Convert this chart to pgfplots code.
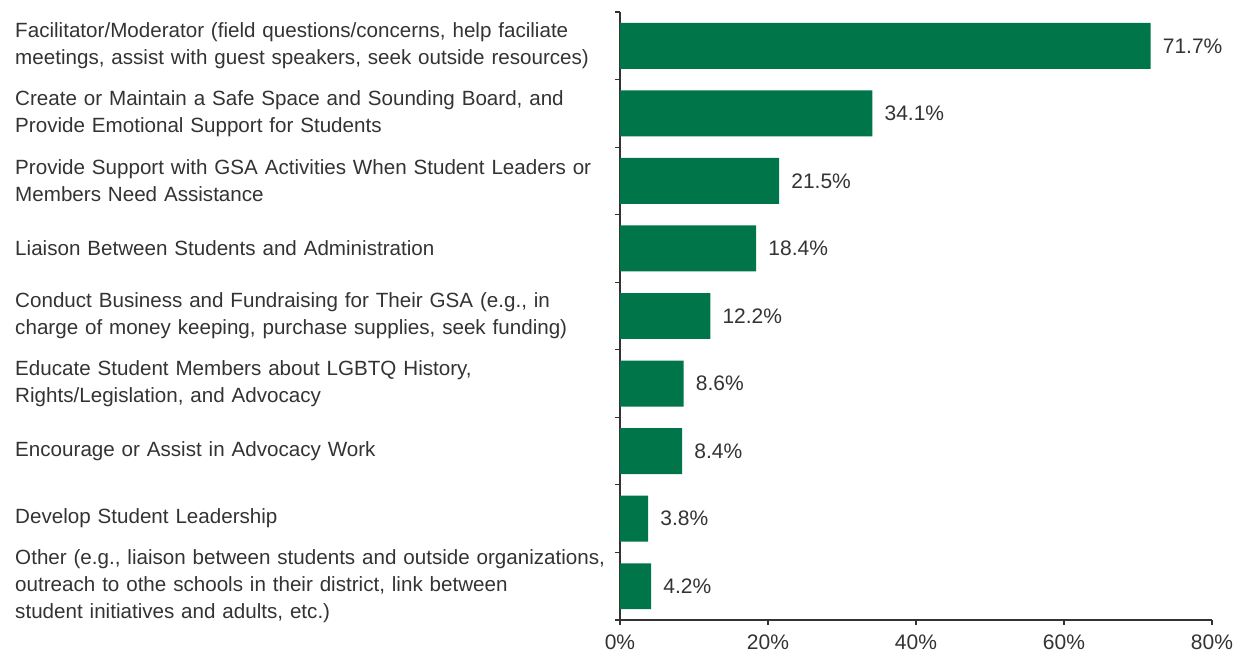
\documentclass[border=0pt]{standalone}
\usepackage{pgfplots}
\pgfplotsset{compat=1.18}
\usepackage{fontspec}
\setmainfont{Liberation Sans}
\definecolor{bargreen}{HTML}{00754A}
\definecolor{txt}{HTML}{333333}

\begin{document}
\fontsize{10.3pt}{13.5pt}\selectfont
\begin{tikzpicture}
\begin{axis}[
  scale only axis, width=296pt, height=304pt,
  xbar, bar width=0.68, y dir=reverse,
  xmin=0, xmax=80, ymin=-0.5, ymax=8.5,
  axis lines=left,
  axis line style={-, black!80, line width=0.6pt},
  tick align=outside,
  major tick length=2.5pt, minor tick length=2.5pt,
  tick style={black!80, line width=0.6pt},
  every major y tick/.append style={draw=none},
  xtick={0,20,...,80},
  xticklabel={\pgfmathprintnumber{\tick}\%},
  /pgf/number format/assume math mode=true,
  xticklabel style={color=txt, yshift=-1.5pt, font=\fontsize{10.5pt}{12pt}\selectfont},
  ytick={0,...,8},
  minor ytick={-0.5,0.5,...,8.5},
  yticklabels={
    {Facilitator/Moderator (field questions/concerns, help faciliate\\meetings, assist with guest speakers, seek outside resources)},
    {Create or Maintain a Safe Space and Sounding Board, and\\Provide Emotional Support for Students},
    {Provide Support with GSA Activities When Student Leaders or\\Members Need Assistance},
    {Liaison Between Students and Administration},
    {Conduct Business and Fundraising for Their GSA (e.g., in\\charge of money keeping, purchase supplies, seek funding)},
    {Educate Student Members about LGBTQ History,\\Rights/Legislation, and Advocacy},
    {Encourage or Assist in Advocacy Work},
    {Develop Student Leadership},
    {Other (e.g., liaison between students and outside organizations,\\outreach to othe schools in their district, link between\\student initiatives and adults, etc.)}
  },
  yticklabel style={anchor=west, xshift=-303.5pt, text width=340pt, align=left, color=txt, font=\fontsize{10.3pt}{13.5pt}\selectfont},
  nodes near coords={\pgfmathprintnumber[fixed,precision=1,fixed zerofill]{\pgfplotspointmeta}\%},
  nodes near coords style={anchor=west, xshift=2.5pt, color=txt, font=\fontsize{10.5pt}{12pt}\selectfont},
]
\addplot[fill=bargreen, draw=none] coordinates {
(71.7,0)
(34.1,1)
(21.5,2)
(18.4,3)
(12.2,4)
(8.6,5)
(8.4,6)
(3.8,7)
(4.2,8)
};
\coordinate (ll) at (axis description cs:0,0);
\coordinate (ur) at (axis description cs:1,1);
\end{axis}
\pgfresetboundingbox
\path[use as bounding box] ([shift={(-310pt,-15pt)}]ll) rectangle ([shift={(18pt,6pt)}]ur);
\end{tikzpicture}
\end{document}
